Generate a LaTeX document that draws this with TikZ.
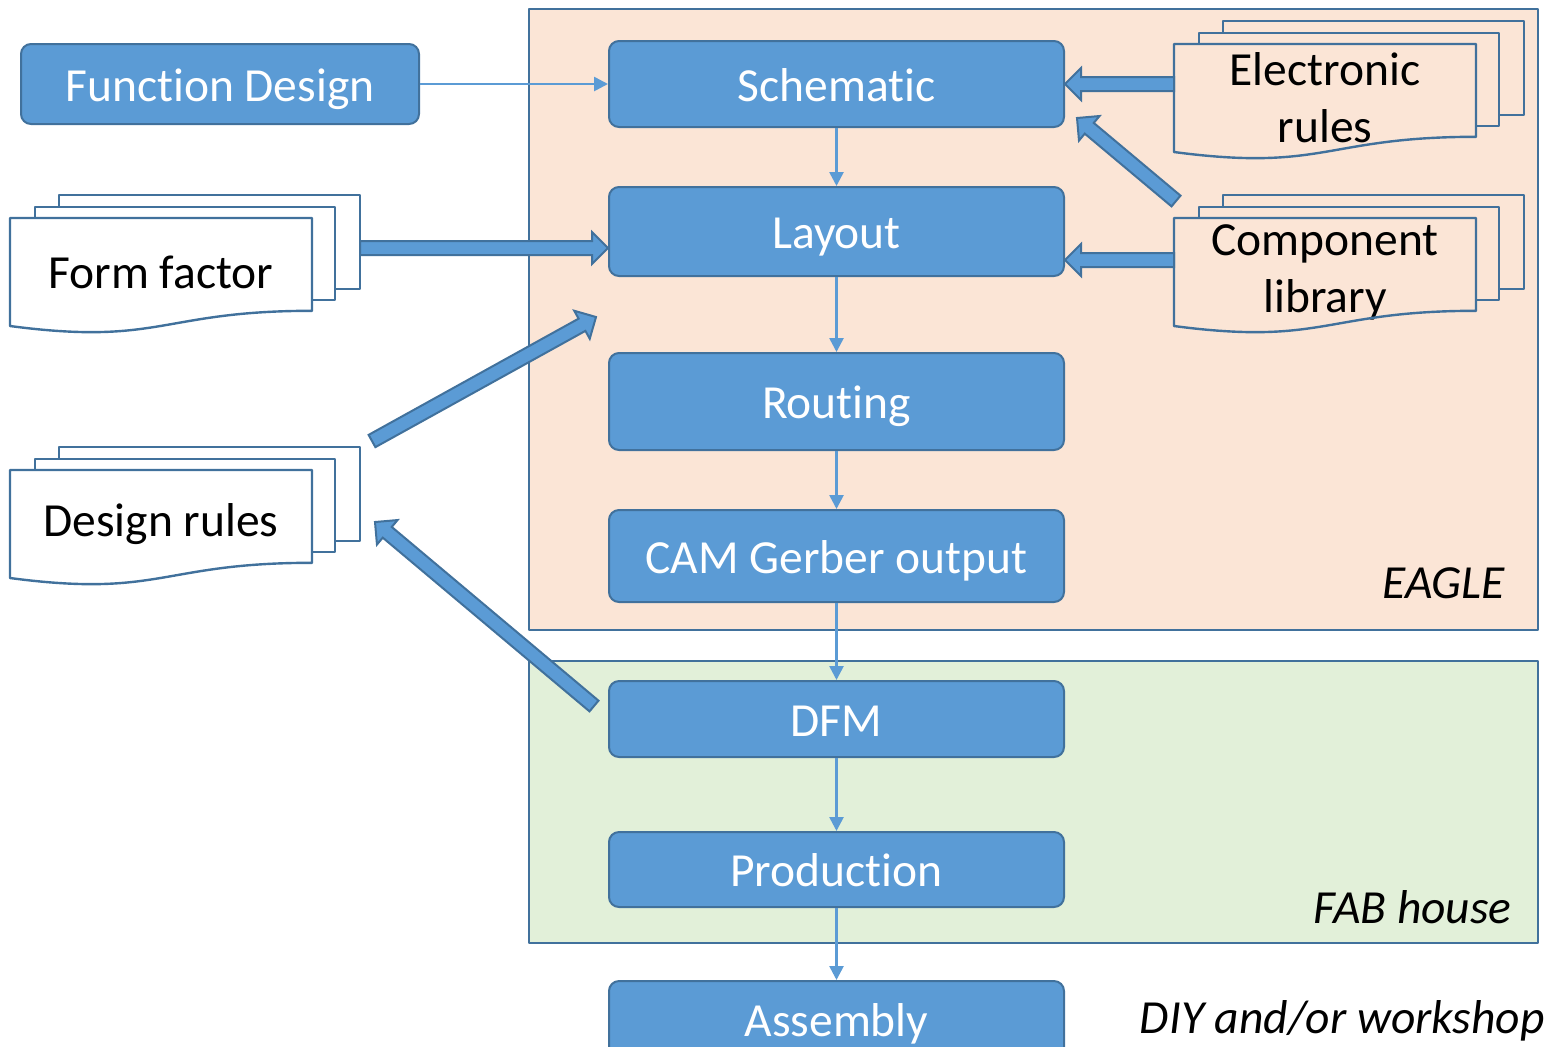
\documentclass[tikz,border=0pt]{standalone}
\usepackage{fontspec}
\setmainfont{Carlito}[Ligatures=CommonOff]
\usetikzlibrary{calc,arrows.meta}
\definecolor{boxblue}{HTML}{5B9BD5}
\definecolor{boxline}{HTML}{41719C}
\definecolor{eaglebg}{HTML}{FBE5D6}
\definecolor{fabbg}{HTML}{E2F0D9}
\tikzset{
  stepbox/.style={draw=boxline, fill=boxblue, line width=1pt, rounded corners=5pt,
    text=white, minimum width=227.5pt, inner sep=0pt, text height=22.5pt, text depth=5.5pt},
  docpage/.style={minimum width=151pt, minimum height=54pt, inner sep=0pt, outer sep=0pt, align=center},
  docline/.style={draw=boxline, line width=1.2pt},
  region/.style={draw=boxline, line width=1pt},
  flow/.style={draw=boxblue, line width=1.3pt, -{Triangle[width=7pt,length=7pt]}},
  bigarrow/.style={draw=boxline, fill=boxblue, line width=1pt, line join=miter},
  tag/.style={font=\fontsize{23.75}{28.5}\selectfont\itshape, inner sep=0pt}
}
% block arrow from #1 (tail) to #2 (tip)
\newcommand{\blockarrow}[2]{%
  \coordinate (ba-h) at ($(#2)!8pt!(#1)$);
  \filldraw[bigarrow] ($(#1)!3.5pt!90:(#2)$) -- ($(ba-h)!3.5pt!90:(#2)$) -- ($(ba-h)!8pt!90:(#2)$)
    -- (#2) -- ($(ba-h)!8pt!-90:(#2)$) -- ($(ba-h)!3.5pt!-90:(#2)$) -- ($(#1)!3.5pt!-90:(#2)$) -- cycle;
}
% stack of pages: name, x, y of front page, text
\newcommand{\docstack}[4]{%
  \node[docpage, anchor=north west] (#1) at (#2,#3) {#4};
  \draw[docline] (#1.north west) -- (#1.north east) -- ([yshift=7.6pt]#1.south east)
    .. controls ([yshift=7.6pt]#1.south) and ([yshift=-10pt]#1.south) .. (#1.south west) -- cycle;
  \draw[docline] ([xshift=12.5pt]#1.north west) -- ++(0pt,5.5pt) -- ([xshift=11.5pt,yshift=5.5pt]#1.north east)
    -- ([xshift=11.5pt,yshift=13.1pt]#1.south east) -- ([yshift=13.1pt]#1.south east);
  \draw[docline] ([xshift=24.5pt,yshift=5.5pt]#1.north west) -- ++(0pt,6pt) -- ([xshift=24pt,yshift=11.5pt]#1.north east)
    -- ([xshift=24pt,yshift=18.6pt]#1.south east) -- ([xshift=11.5pt,yshift=18.6pt]#1.south east);
}
\begin{document}
\begin{tikzpicture}[x=0.5pt, y=-0.5pt, font=\fontsize{23.75}{28.5}\selectfont, line join=round]
  \useasboundingbox (0,0) rectangle (1552,1046);

  % tool areas
  \filldraw[region, fill=eaglebg] (529,9) rectangle (1538,630);
  \filldraw[region, fill=fabbg] (529,661) rectangle (1538,943);
  \node[tag, anchor=base east] (eagle) at (1505,598) {EAGLE};
  \node[tag, anchor=base east] (fab) at (1512,923) {FAB house};
  \node[tag, anchor=base east] (diy) at (1545,1033) {DIY and/or workshop};

  % flow steps
  \node[stepbox, minimum width=199pt, minimum height=40pt] (fundes) at (220,84) {Function Design};
  \node[stepbox, minimum height=43pt] (schem) at (836.5,84) {Schematic};
  \node[stepbox, minimum height=44.5pt] (layout) at (836.5,231.5) {Layout};
  \node[stepbox, minimum height=48.5pt] (routing) at (836.5,401.5) {Routing};
  \node[stepbox, minimum height=46pt] (cam) at (836.5,556) {CAM Gerber output};
  \node[stepbox, minimum height=38pt] (dfm) at (836.5,719) {DFM};
  \node[stepbox, minimum height=37.5pt] (prod) at (836.5,869.5) {Production};
  \node[stepbox, minimum height=38pt] (asm) at (836.5,1019) {Assembly};

  \draw[flow] (fundes.east) -- (schem.west);
  \foreach \a/\b in {schem/layout, layout/routing, routing/cam, cam/dfm, dfm/prod, prod/asm}
    \draw[flow] (\a.south) -- (\b.north);

  % inputs
  \docstack{formf}{10}{218}{Form factor}
  \docstack{desrul}{10}{470}{Design rules}
  \docstack{elrul}{1174}{44}{Electronic\\rules}
  \docstack{complib}{1174}{218}{Component\\library}

  \path
    ([xshift=24pt,yshift=12pt]formf.east) coordinate (ff-t)
    (layout.west |- ff-t) coordinate (ff-h)
    ($(desrul.north east)+(60,-29)$) coordinate (dr-t)
    ($(layout.south west)+(-12,40)$) coordinate (dr-h)
    ($(dfm.west)+(-14,-13)$) coordinate (df-t)
    ($(desrul.north east)+(63,52)$) coordinate (df-h)
    (elrul.west |- schem.east) coordinate (er-t)
    (schem.east) coordinate (er-h)
    ($(complib.north west)+(2,-17)$) coordinate (cs-t)
    ($(schem.south east)+(12,-10)$) coordinate (cs-h)
    ([yshift=6pt]complib.west) coordinate (cl-t)
    (layout.east |- cl-t) coordinate (cl-h)
    ;
  \blockarrow{ff-t}{ff-h}
  \blockarrow{dr-t}{dr-h}
  \blockarrow{df-t}{df-h}
  \blockarrow{er-t}{er-h}
  \blockarrow{cs-t}{cs-h}
  \blockarrow{cl-t}{cl-h}
\end{tikzpicture}
\end{document}
